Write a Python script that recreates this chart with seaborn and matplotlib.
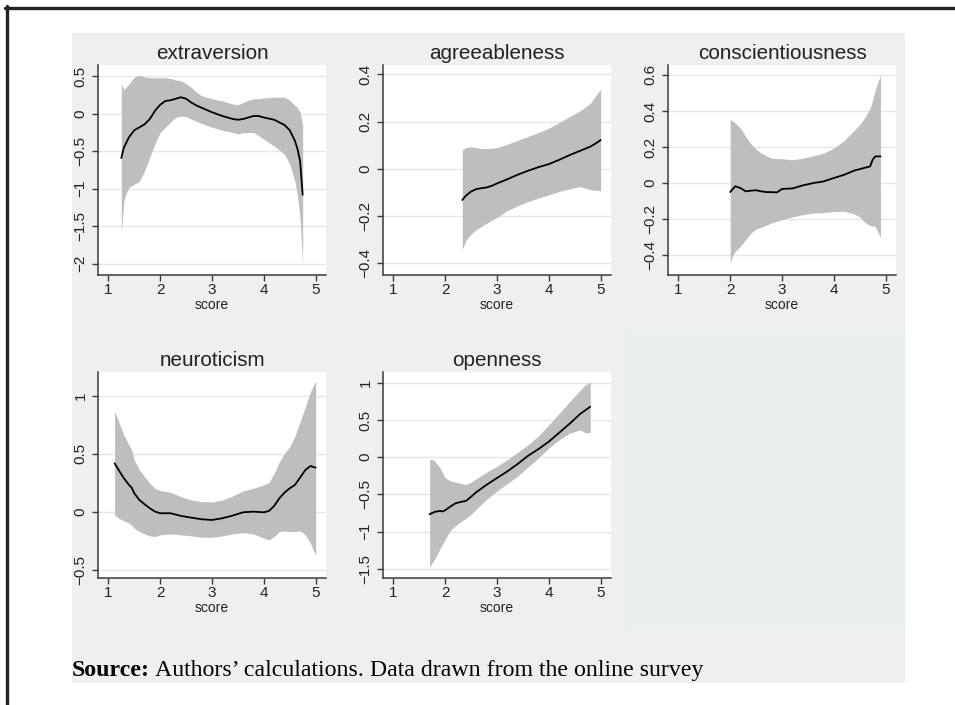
import matplotlib
matplotlib.use("Agg")
import matplotlib.pyplot as plt
from matplotlib.lines import Line2D
from matplotlib.patches import Rectangle
from matplotlib.ticker import FuncFormatter
import seaborn as sns

# extraversion
extra_x = [1.25, 1.3, 1.35, 1.4, 1.5, 1.6, 1.7, 1.8, 1.9, 2.0, 2.1, 2.2, 2.3, 2.4, 2.5,
           2.6, 2.7, 2.8, 3.0, 3.2, 3.4, 3.5, 3.6, 3.7, 3.8, 3.9, 4.0, 4.2, 4.4, 4.5,
           4.6, 4.65, 4.7, 4.75]
extra_mean = [-0.59, -0.45, -0.38, -0.31, -0.22, -0.18, -0.14, -0.07, 0.04, 0.12, 0.17, 0.18,
              0.20, 0.22, 0.20, 0.15, 0.11, 0.08, 0.02, -0.03, -0.07, -0.08, -0.07, -0.05,
              -0.03, -0.03, -0.05, -0.08, -0.15, -0.22, -0.36, -0.47, -0.63, -1.08]
extra_lo = [-1.59, -1.16, -1.05, -0.98, -0.94, -0.90, -0.76, -0.58, -0.40, -0.25, -0.18, -0.11,
            -0.05, -0.03, -0.04, -0.07, -0.10, -0.13, -0.18, -0.22, -0.25, -0.27, -0.25, -0.25,
            -0.25, -0.29, -0.34, -0.43, -0.54, -0.67, -0.90, -1.10, -1.39, -2.01]
extra_hi = [0.41, 0.32, 0.36, 0.40, 0.49, 0.51, 0.49, 0.48, 0.48, 0.48, 0.48, 0.47, 0.45, 0.44,
            0.40, 0.35, 0.29, 0.24, 0.20, 0.17, 0.13, 0.12, 0.15, 0.18, 0.20, 0.20, 0.21, 0.22,
            0.22, 0.18, 0.11, 0.08, 0.02, -0.16]

# agreeableness
agree_x = [2.33, 2.4, 2.5, 2.6, 2.7, 2.8, 2.9, 3.0, 3.2, 3.4, 3.6, 3.8, 4.0, 4.2, 4.4, 4.6,
           4.8, 4.9, 5.0]
agree_mean = [-0.132, -0.114, -0.096, -0.086, -0.082, -0.079, -0.072, -0.062, -0.044, -0.025,
              -0.008, 0.007, 0.020, 0.038, 0.058, 0.076, 0.094, 0.107, 0.122]
agree_lo = [-0.342, -0.304, -0.276, -0.258, -0.244, -0.231, -0.218, -0.206, -0.177, -0.156,
            -0.139, -0.124, -0.110, -0.096, -0.085, -0.075, -0.088, -0.091, -0.093]
agree_hi = [0.080, 0.090, 0.094, 0.090, 0.086, 0.086, 0.087, 0.090, 0.104, 0.121, 0.137,
            0.154, 0.172, 0.196, 0.221, 0.245, 0.277, 0.308, 0.337]

# conscientiousness
consc_x = [2.0, 2.05, 2.1, 2.2, 2.3, 2.4, 2.5, 2.6, 2.7, 2.8, 2.9, 3.0, 3.1, 3.2, 3.4, 3.6,
           3.8, 4.0, 4.2, 4.4, 4.5, 4.6, 4.7, 4.75, 4.8, 4.9]
consc_mean = [-0.050, -0.033, -0.018, -0.028, -0.046, -0.042, -0.040, -0.046, -0.050, -0.050,
              -0.052, -0.033, -0.031, -0.030, -0.013, 0.000, 0.009, 0.028, 0.046, 0.070,
              0.077, 0.085, 0.092, 0.130, 0.148, 0.148]
consc_lo = [-0.443, -0.400, -0.378, -0.350, -0.314, -0.277, -0.255, -0.245, -0.233, -0.221,
            -0.212, -0.203, -0.195, -0.188, -0.175, -0.166, -0.164, -0.157, -0.157, -0.172,
            -0.188, -0.218, -0.236, -0.238, -0.240, -0.304]
consc_hi = [0.354, 0.343, 0.332, 0.304, 0.258, 0.218, 0.188, 0.166, 0.151, 0.138, 0.136,
            0.135, 0.132, 0.129, 0.138, 0.151, 0.166, 0.194, 0.236, 0.295, 0.323, 0.365,
            0.415, 0.460, 0.517, 0.600]

# neuroticism
neuro_x = [1.12, 1.2, 1.3, 1.4, 1.45, 1.5, 1.6, 1.7, 1.8, 1.9, 2.0, 2.2, 2.4, 2.6, 2.8, 3.0,
           3.2, 3.4, 3.6, 3.8, 4.0, 4.1, 4.2, 4.3, 4.4, 4.5, 4.6, 4.7, 4.8, 4.9, 5.0]
neuro_mean = [0.418, 0.360, 0.289, 0.231, 0.208, 0.160, 0.102, 0.065, 0.031, 0.002, -0.012,
              -0.012, -0.035, -0.050, -0.064, -0.070, -0.055, -0.032, -0.004, 0.002, -0.004,
              0.008, 0.051, 0.117, 0.166, 0.203, 0.232, 0.295, 0.360, 0.395, 0.381]
neuro_lo = [-0.027, -0.055, -0.078, -0.098, -0.115, -0.141, -0.170, -0.190, -0.207, -0.213,
            -0.198, -0.190, -0.198, -0.207, -0.219, -0.219, -0.207, -0.190, -0.179, -0.190,
            -0.227, -0.241, -0.213, -0.170, -0.164, -0.170, -0.170, -0.164, -0.198, -0.270,
            -0.376]
neuro_hi = [0.868, 0.776, 0.661, 0.575, 0.532, 0.446, 0.360, 0.303, 0.246, 0.203, 0.183,
            0.168, 0.131, 0.102, 0.088, 0.085, 0.102, 0.137, 0.180, 0.203, 0.232, 0.252,
            0.332, 0.432, 0.504, 0.561, 0.653, 0.776, 0.905, 1.034, 1.128]

# openness
open_x = [1.7, 1.75, 1.8, 1.9, 1.95, 2.0, 2.1, 2.2, 2.3, 2.4, 2.5, 2.6, 2.8, 3.0, 3.2, 3.4,
          3.6, 3.8, 4.0, 4.2, 4.4, 4.6, 4.7, 4.8]
open_mean = [-0.767, -0.750, -0.735, -0.722, -0.730, -0.713, -0.664, -0.619, -0.601, -0.588,
             -0.531, -0.470, -0.370, -0.280, -0.190, -0.090, 0.020, 0.110, 0.210, 0.330,
             0.450, 0.580, 0.630, 0.680]
open_lo = [-1.478, -1.420, -1.366, -1.233, -1.170, -1.100, -0.988, -0.921, -0.868, -0.824,
           -0.766, -0.699, -0.566, -0.455, -0.352, -0.254, -0.130, -0.010, 0.124, 0.235,
           0.324, 0.368, 0.330, 0.330]
open_hi = [-0.030, -0.030, -0.055, -0.143, -0.210, -0.277, -0.320, -0.334, -0.352, -0.366,
           -0.334, -0.290, -0.200, -0.121, -0.032, 0.066, 0.168, 0.288, 0.435, 0.590,
           0.746, 0.900, 0.970, 1.010]

titles = ["extraversion", "agreeableness", "conscientiousness", "neuroticism", "openness"]
y_ticks = [
    [-2, -1.5, -1, -0.5, 0, 0.5],
    [-0.4, -0.2, 0, 0.2, 0.4],
    [-0.4, -0.2, 0, 0.2, 0.4, 0.6],
    [-0.5, 0, 0.5, 1],
    [-1.5, -1, -0.5, 0, 0.5, 1],
]
y_lims = [(-2.15, 0.65), (-0.45, 0.44), (-0.51, 0.655), (-0.57, 1.205), (-1.625, 1.147)]
x_ticks = [1, 2, 3, 4, 5]

panels = [
    (extra_x, extra_mean, extra_lo, extra_hi),
    (agree_x, agree_mean, agree_lo, agree_hi),
    (consc_x, consc_mean, consc_lo, consc_hi),
    (neuro_x, neuro_mean, neuro_lo, neuro_hi),
    (open_x, open_mean, open_lo, open_hi),
]

sns.set_style("white")
plt.rcParams["font.family"] = ["Liberation Sans", "DejaVu Sans"]

W, H = 955, 705
fig = plt.figure(figsize=(W / 100, H / 100), dpi=100)
fig.patch.set_facecolor("white")

# grey graph region and empty sixth cell
fig.add_artist(Rectangle((72 / W, 1 - 683 / H), (905 - 72) / W, (683 - 33) / H,
                         transform=fig.transFigure, facecolor="#efefef", edgecolor="none", zorder=0))
fig.add_artist(Rectangle((627 / W, 1 - 628 / H), (905 - 627) / W, (628 - 332) / H,
                         transform=fig.transFigure, facecolor="#e9f0ee", edgecolor="none", zorder=0))

# page border
fig.add_artist(Line2D([5 / W, 1], [1 - 7.5 / H, 1 - 7.5 / H], transform=fig.transFigure,
                      color="#222222", lw=2.4))
fig.add_artist(Line2D([6.5 / W, 6.5 / W], [0, 1 - 6 / H], transform=fig.transFigure,
                      color="#222222", lw=2.4))

col_left = [98, 383, 668]
rows = [(65, 275), (372, 578)]
ax_w = 228


def fmt(v, pos):
    return f"{v:g}".replace("-", "\u2212")


for i, (xs, mean, lo, hi) in enumerate(panels):
    r, c = divmod(i, 3)
    top, bot = rows[r]
    ax = fig.add_axes([col_left[c] / W, 1 - bot / H, ax_w / W, (bot - top) / H])
    ax.set_facecolor("white")
    ax.fill_between(xs, lo, hi, color="#bebebe", lw=0, zorder=2)
    sns.lineplot(x=xs, y=mean, ax=ax, color="black", lw=1.3, zorder=3)
    ax.set_xlim(0.8, 5.2)
    ax.set_ylim(*y_lims[i])
    ax.set_xticks(x_ticks)
    ax.set_yticks(y_ticks[i])
    ax.yaxis.set_major_formatter(FuncFormatter(fmt))
    ax.grid(axis="y", color="#e6e6e6", lw=1.0, zorder=0)
    ax.grid(axis="x", visible=False)
    ax.set_axisbelow(True)
    for s in ["top", "right"]:
        ax.spines[s].set_visible(False)
    for s in ["left", "bottom"]:
        ax.spines[s].set_color("#3a3a3a")
        ax.spines[s].set_linewidth(1.1)
    ax.tick_params(axis="both", direction="out", length=4, width=1.0, color="#3a3a3a",
                   labelsize=11, labelcolor="#222222", bottom=True, left=True)
    ax.tick_params(axis="x", pad=1.5)
    ax.tick_params(axis="y", pad=3.5)
    for lab in ax.get_yticklabels():
        lab.set_rotation(90)
        lab.set_va("center")
    ax.set_xlabel("score", fontsize=10, color="#222222", labelpad=1)
    ax.set_ylabel("")
    ax.set_title(titles[i], fontsize=14.9, color="#222222", pad=4)

# source note
txt = fig.text(72 / W, 1 - 676 / H, "Source:", fontsize=17.2, fontweight="bold",
               family="Liberation Serif", color="black", va="baseline")
fig.canvas.draw()
bb = txt.get_window_extent(renderer=fig.canvas.get_renderer())
fig.text(bb.x1 / W + 5 / W, 1 - 676 / H, "Authors\u2019 calculations. Data drawn from the online survey",
         fontsize=17.2, family="Liberation Serif", color="black", va="baseline")

fig.savefig("out.png", dpi=100, facecolor=fig.get_facecolor())
